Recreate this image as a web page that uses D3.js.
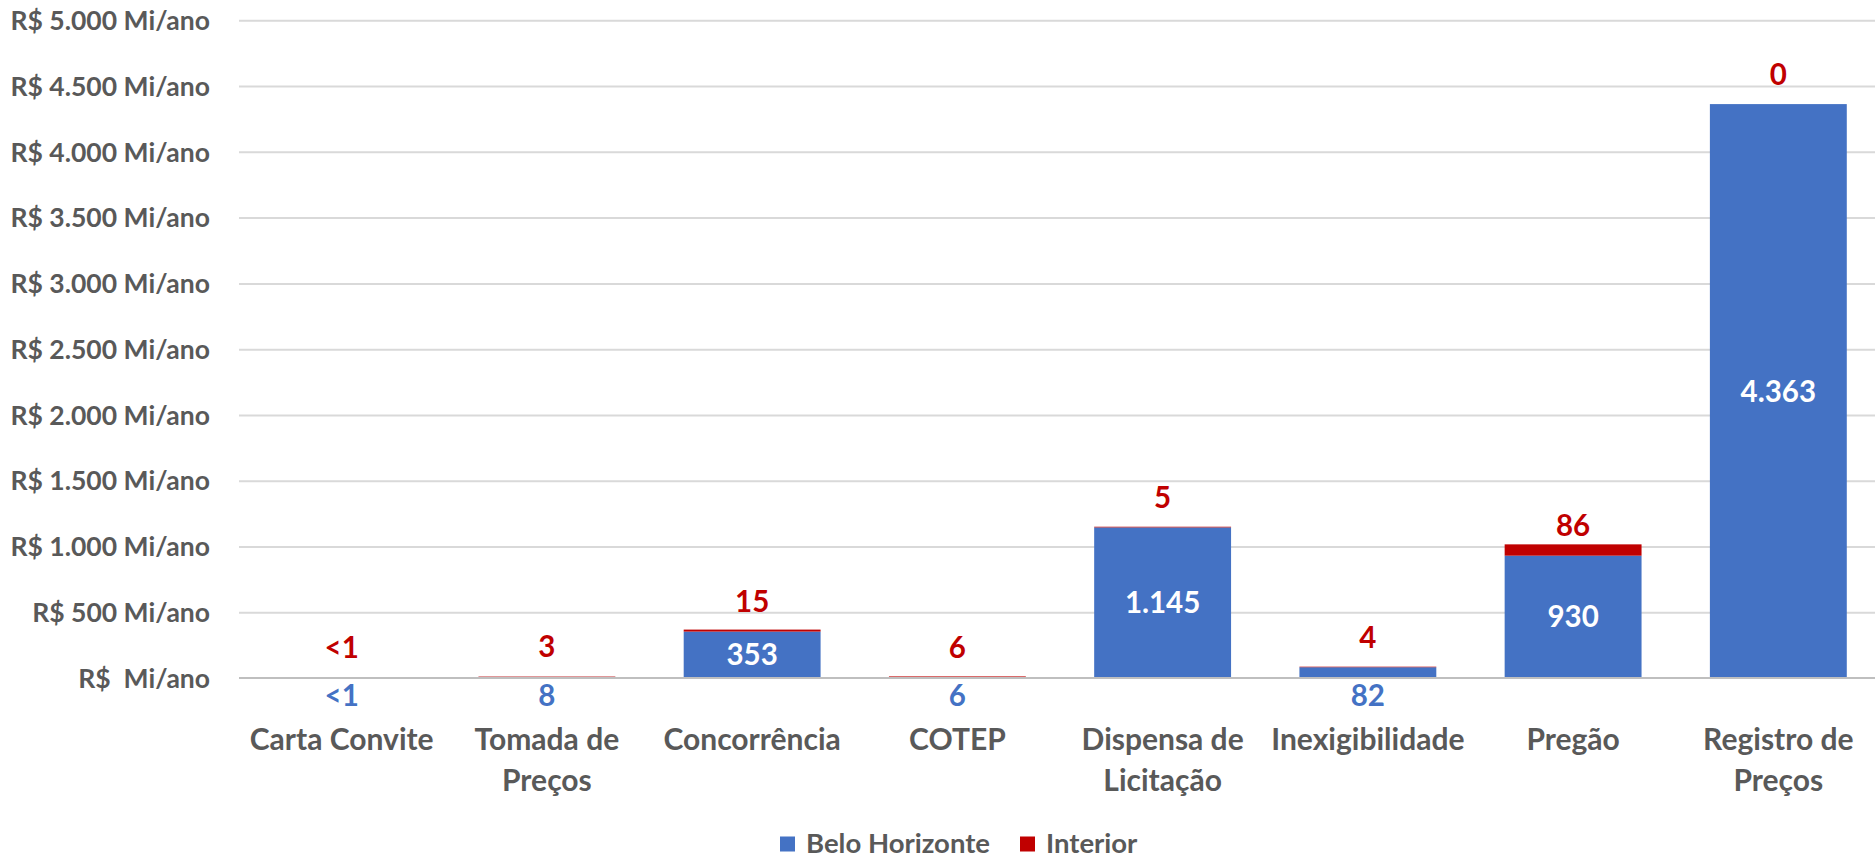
<!DOCTYPE html>
<html>
<head>
<meta charset="utf-8">
<script src="https://cdn.jsdelivr.net/npm/d3@7"></script>
<style>
  html, body { margin: 0; padding: 0; background: #fff; }
  svg { display: block; font-family: Lato, "Open Sans", sans-serif; font-weight: 700; }
  text { white-space: pre; }
</style>
</head>
<body>
<svg id="chart" width="1875" height="857"></svg>
<script>
// ---- data ----
const categories = ["Carta Convite", "Tomada de Preços", "Concorrência", "COTEP",
  "Dispensa de Licitação", "Inexigibilidade", "Pregão", "Registro de Preços"];
const beloHorizonte = [0.4, 8, 353, 6, 1145, 82, 930, 4363];
const interior = [0.4, 3, 15, 6, 5, 4, 86, 0];
const seriesNames = ["Belo Horizonte", "Interior"];
const yTicks = [0, 500, 1000, 1500, 2000, 2500, 3000, 3500, 4000, 4500, 5000];

// ---- setup ----
const W = 1875, H = 857;
const colors = { bh: "#4472C4", int: "#C00000", text: "#595959", grid: "#D9D9D9", axis: "#BFBFBF" };
const svg = d3.select("#chart");

const locale = d3.formatLocale({ decimal: ",", thousands: ".", grouping: [3], currency: ["R$ ", ""] });
const fmt = locale.format(",.0f");
const valLabel = v => (v > 0 && v < 1) ? "<1" : fmt(v);

const x = d3.scaleBand().domain(categories).range([239, 1881]).paddingInner(0.333).paddingOuter(0.1667);
const y = d3.scaleLinear().domain([0, 5000]).range([678, 20.3]);

// gridlines
svg.append("g")
  .attr("transform", "translate(239,0)")
  .call(d3.axisLeft(y).tickValues(yTicks.filter(d => d > 0)).tickSize(-(W - 239)).tickFormat(""))
  .call(g => g.select(".domain").remove())
  .call(g => g.selectAll("line").attr("stroke", colors.grid).attr("stroke-width", 2));

// y tick labels
svg.append("g")
  .attr("transform", "translate(239,0)")
  .call(d3.axisLeft(y).tickValues(yTicks).tickSize(0).tickPadding(29)
    .tickFormat(v => v === 0 ? "R$  Mi/ano" : `R$ ${fmt(v)} Mi/ano`))
  .call(g => g.select(".domain").remove())
  .call(g => g.selectAll("text")
    .attr("fill", colors.text).attr("font-size", 26.5).attr("font-family", "Lato")
    .attr("font-weight", 700).attr("dy", "0.35em"));

// stacked data
const rows = categories.map((c, i) => ({ cat: c, bh: beloHorizonte[i], int: interior[i] }));
const stack = d3.stack().keys(["bh", "int"])(rows);

const gBars = svg.append("g");
gBars.selectAll("g").data(stack).join("g")
  .attr("fill", d => d.key === "bh" ? colors.bh : colors.int)
  .selectAll("rect").data(d => d).join("rect")
  .attr("x", d => x(d.data.cat))
  .attr("width", x.bandwidth())
  .attr("y", d => y(d[1]))
  .attr("height", d => Math.max(0, y(d[0]) - y(d[1])));

// x axis line
svg.append("line")
  .attr("x1", 239).attr("x2", W)
  .attr("y1", y(0)).attr("y2", y(0))
  .attr("stroke", colors.axis).attr("stroke-width", 2);

// category labels (wrapped)
const gx = svg.append("g").attr("transform", `translate(0,${y(0)})`)
  .call(d3.axisBottom(x).tickSize(0).tickPadding(0))
  .call(g => g.select(".domain").remove());
gx.selectAll("text").each(function(d) {
  const t = d3.select(this);
  t.text(null).attr("y", 0).attr("dy", null)
    .attr("fill", colors.text).attr("font-size", 30).attr("font-family", "Lato").attr("font-weight", 700);
  const words = d.split(" ");
  const maxW = x.step() - 4;
  let lines = [], cur = [];
  const probe = t.append("tspan");
  words.forEach(w => {
    const trial = cur.concat(w).join(" ");
    probe.text(trial);
    if (probe.node().getComputedTextLength() > maxW && cur.length) { lines.push(cur.join(" ")); cur = [w]; }
    else cur.push(w);
  });
  lines.push(cur.join(" "));
  probe.remove();
  lines.forEach((ln, i) => t.append("tspan").attr("x", 0).attr("y", 72 + i * 41).text(ln));
});

// data labels
const gl = svg.append("g").attr("font-family", "Lato").attr("font-weight", 700).attr("font-size", 29.5)
  .attr("text-anchor", "middle");
rows.forEach(r => {
  const cx = x(r.cat) + x.bandwidth() / 2;
  // Belo Horizonte
  if (r.bh >= 100) {
    gl.append("text").attr("x", cx).attr("y", (y(0) + y(r.bh)) / 2 + 10.5)
      .attr("fill", "#fff").text(valLabel(r.bh));
  } else {
    gl.append("text").attr("x", cx).attr("y", y(0) + 28)
      .attr("fill", colors.bh).text(valLabel(r.bh));
  }
  // Interior (inside base, above the blue segment)
  gl.append("text").attr("x", cx).attr("y", y(r.bh) - 19.5)
    .attr("fill", colors.int).text(valLabel(r.int));
});

// legend
const legend = svg.append("g").attr("font-family", "Lato").attr("font-weight", 700).attr("font-size", 27.5);
const legItems = [{ name: seriesNames[0], color: colors.bh, x: 780 }, { name: seriesNames[1], color: colors.int, x: 1020 }];
legItems.forEach(it => {
  legend.append("rect").attr("x", it.x).attr("y", 836.5).attr("width", 15).attr("height", 15).attr("fill", it.color);
  legend.append("text").attr("x", it.x + 26).attr("y", 852.5).attr("fill", colors.text).text(it.name);
});
</script>
</body>
</html>
